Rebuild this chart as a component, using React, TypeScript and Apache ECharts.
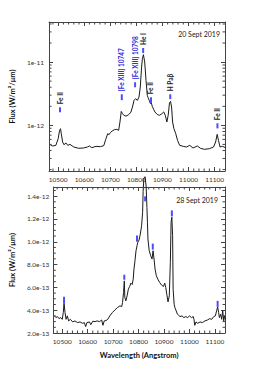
import React, { useEffect, useRef } from "react";
import * as echarts from "echarts";

// ---- 20 Sept 2019 spectrum (flux in W/m^2/µm) ----
const wavelengthSep20 = [
  10469, 10479, 10491, 10500, 10505, 10509, 10512, 10517, 10522, 10530, 10537, 10545, 10560, 10579,
  10597, 10612, 10620, 10629, 10645, 10662, 10675, 10682, 10690, 10695, 10700, 10707, 10716, 10725,
  10732, 10737, 10742, 10747, 10752, 10760, 10770, 10779, 10785, 10791, 10797, 10804, 10810, 10815,
  10820, 10823, 10827, 10832, 10837, 10842, 10845, 10850, 10854, 10857, 10861, 10866, 10871, 10880,
  10888, 10898, 10905, 10911, 10917, 10922, 10927, 10931, 10935, 10939, 10944, 10951, 10958, 10966,
  10980, 10992, 11005, 11017, 11034, 11046, 11061, 11080, 11096, 11104, 11110, 11115, 11121, 11130, 11142,
];
const fluxSep20 = [
  4.95e-13, 4.72e-13, 4.83e-13, 6.16e-13, 8.14e-13, 8.86e-13, 7.38e-13, 5.46e-13, 4.95e-13, 5.26e-13,
  4.83e-13, 5.01e-13, 4.55e-13, 4.34e-13, 4.39e-13, 4.55e-13, 4.72e-13, 4.44e-13, 4.66e-13, 4.61e-13,
  4.78e-13, 5.94e-13, 7.38e-13, 7.13e-13, 7.66e-13, 8.14e-13, 8.55e-13, 8.65e-13, 8.34e-13, 1.13e-12,
  1.66e-12, 1.53e-12, 1.44e-12, 1.4e-12, 1.47e-12, 1.62e-12, 1.95e-12, 2.48e-12, 2.64e-12, 2.48e-12,
  2.8e-12, 4.03e-12, 8.34e-12, 1.13e-11, 1.31e-11, 1.0e-11, 5.14e-12, 2.98e-12, 2.74e-12, 2.45e-12,
  2.2e-12, 2.3e-12, 2.0e-12, 1.8e-12, 1.63e-12, 1.49e-12, 1.44e-12, 1.53e-12, 1.63e-12, 1.44e-12,
  1.13e-12, 1.44e-12, 2.25e-12, 2.39e-12, 1.95e-12, 1.13e-12, 8.86e-13, 7.38e-13, 5.79e-13, 4.83e-13,
  4.66e-13, 4.55e-13, 4.83e-13, 4.39e-13, 4.72e-13, 4.34e-13, 4.18e-13, 4.28e-13, 4.55e-13, 5.46e-13,
  7.21e-13, 5.79e-13, 4.55e-13, 4.66e-13, 4.44e-13,
];

// ---- 28 Sept 2019 spectrum (flux in units of 1e-13 W/m^2/µm) ----
const wavelengthSep28 = [
  10469, 10475, 10481, 10487, 10494, 10500, 10504, 10507, 10511, 10515, 10520, 10525, 10532, 10541,
  10550, 10560, 10570, 10579, 10587, 10592, 10597, 10607, 10612, 10620, 10629, 10637, 10647, 10655,
  10660, 10665, 10672, 10679, 10687, 10697, 10707, 10717, 10727, 10734, 10737, 10741, 10744, 10746,
  10750, 10755, 10760, 10765, 10770, 10775, 10779, 10782, 10786, 10790, 10794, 10797, 10802, 10807,
  10812, 10816, 10818, 10821, 10826, 10830, 10833, 10835, 10837, 10842, 10848, 10853, 10857, 10861,
  10865, 10870, 10876, 10883, 10891, 10898, 10903, 10907, 10911, 10916, 10921, 10925, 10928, 10931,
  10934, 10936, 10940, 10943, 10948, 10953, 10958, 10963, 10971, 10978, 10986, 10993, 11001, 11008,
  11015, 11018, 11021, 11026, 11033, 11042, 11051, 11061, 11071, 11080, 11088, 11096, 11102, 11107,
  11111, 11115, 11118, 11123, 11127, 11131, 11135, 11138, 11142,
];
const fluxSep28E13 = [
  3.5, 3.35, 3.44, 3.26, 3.35, 3.2, 3.79, 4.61, 3.79, 3.2, 3.5, 3.06, 3.2, 2.97,
  3.06, 2.91, 2.97, 2.85, 2.91, 2.56, 2.91, 2.97, 2.73, 3.03, 3.0, 3.06, 3.0, 3.14,
  2.67, 3.06, 3.09, 3.2, 3.5, 3.79, 4.02, 4.23, 4.38, 4.32, 4.67, 5.55, 6.57, 5.11,
  4.82, 5.26, 5.84, 6.08, 6.37, 6.25, 6.72, 7.6, 8.33, 9.21, 9.65, 9.95, 10.15, 10.68,
  11.41, 12.59, 14.4, 15.6, 15.7, 14.8, 13.0, 11.71, 10.24, 9.21, 8.77, 8.48, 9.21, 8.48,
  7.6, 7.01, 6.72, 6.43, 6.19, 6.08, 6.37, 5.99, 5.4, 4.73, 5.26, 8.19, 11.71, 12.15,
  10.53, 5.84, 4.52, 4.23, 3.94, 3.64, 3.55, 3.44, 3.5, 3.35, 3.44, 3.35, 3.5, 3.35,
  3.44, 3.2, 2.67, 2.97, 2.85, 2.97, 2.91, 3.06, 3.14, 3.26, 3.2, 3.44, 3.5, 3.94,
  4.29, 3.79, 3.35, 3.64, 3.2, 3.94, 3.06, 3.5, 3.2,
];

// ---- line identifications ----
const lineLabels = ["Fe II", "[Fe XIII] 10747", "[Fe XIII] 10798", "He I", "Fe II", "H Paβ", "Fe II"];
const lineLabelIsBlue = [false, true, true, false, false, false, false];
const markerWlSep20 = [10507, 10744, 10795, 10826, 10856, 10930, 11111];
const markerLowSep20 = [1.61e-12, 2.5e-12, 4.0e-12, 1.39e-11, 2.23e-12, 2.6e-12, 8.95e-13];
const markerHighSep20 = [1.93e-12, 3.1e-12, 4.8e-12, 1.67e-11, 2.78e-12, 3.1e-12, 1.08e-12];
const markerWlSep28 = [10507, 10744, 10794, 10826, 10856, 10931, 11111];
const markerLowSep28 = [4.64, 6.67, 10.0, 13.54, 9.31, 12.22, 4.29];
const markerHighSep28 = [5.17, 7.11, 10.55, 13.98, 9.84, 12.75, 4.82];

const dateLabels = ["20 Sept 2019", "28 Sept 2019"];

const X_MIN = 10465;
const X_MAX = 11140;
const LOG_MIN = 1.9e-13;
const LOG_MAX = 4.3e-11;
const LIN_MIN = 2;
const LIN_MAX = 14.8;
const LIN_STEP = 2;

const FONT = "Lato, 'Open Sans', sans-serif";
const AXIS_COLOR = "#444";
const LABEL_COLOR = "#333";

function xMinorValues(): number[] {
  const out: number[] = [];
  for (let v = Math.ceil(X_MIN / 20) * 20; v < X_MAX; v += 20) {
    if (v % 100 !== 0) out.push(v);
  }
  return out;
}
function logMinorValues(): number[] {
  const out: number[] = [];
  for (let e = -14; e <= -10; e++) {
    for (let m = 2; m <= 9; m++) {
      const v = m * Math.pow(10, e);
      if (v > LOG_MIN && v < LOG_MAX) out.push(v);
    }
  }
  return out;
}
function linMinorValues(): number[] {
  const out: number[] = [];
  for (let v = LIN_MIN; v < LIN_MAX; v += 0.5) {
    if (Math.abs(v / LIN_STEP - Math.round(v / LIN_STEP)) > 1e-6) out.push(v);
  }
  return out;
}

function minorTickSeries(axisIndex: number, yVals: number[], xRef: number, yRef: number) {
  const data: number[][] = [
    ...xMinorValues().map((v) => [v, yRef, 0]),
    ...yVals.map((v) => [xRef, v, 1]),
  ];
  return {
    type: "custom",
    xAxisIndex: axisIndex * 2,
    yAxisIndex: axisIndex * 2,
    silent: true,
    clip: false,
    z: 5,
    data,
    renderItem: (params: any, api: any) => {
      const cs = params.coordSys;
      const p = api.coord([api.value(0), api.value(1)]);
      const style = { stroke: AXIS_COLOR, lineWidth: 1 };
      const len = 2.5;
      if (api.value(2) === 0) {
        return {
          type: "group",
          children: [
            { type: "line", shape: { x1: p[0], y1: cs.y + cs.height, x2: p[0], y2: cs.y + cs.height - len }, style },
            { type: "line", shape: { x1: p[0], y1: cs.y, x2: p[0], y2: cs.y + len }, style },
          ],
        };
      }
      return {
        type: "group",
        children: [
          { type: "line", shape: { x1: cs.x, y1: p[1], x2: cs.x + len, y2: p[1] }, style },
          { type: "line", shape: { x1: cs.x + cs.width, y1: p[1], x2: cs.x + cs.width - len, y2: p[1] }, style },
        ],
      };
    },
  };
}

function markerSeries(axisIndex: number, wl: number[], lo: number[], hi: number[], withLabels: boolean) {
  return {
    type: "custom",
    xAxisIndex: axisIndex * 2,
    yAxisIndex: axisIndex * 2,
    silent: true,
    clip: false,
    z: 10,
    data: wl.map((w, i) => [w, lo[i], hi[i]]),
    encode: { x: 0, y: [1, 2] },
    renderItem: (params: any, api: any) => {
      const i = params.dataIndex;
      const a = api.coord([api.value(0), api.value(1)]);
      const b = api.coord([api.value(0), api.value(2)]);
      const children: any[] = [
        { type: "rect", shape: { x: a[0] - 1, y: b[1], width: 2, height: a[1] - b[1] }, style: { fill: "#4d4dff" } },
      ];
      if (withLabels) {
        children.push({
          type: "text",
          x: b[0],
          y: b[1] - 3,
          rotation: Math.PI / 2,
          style: {
            text: lineLabels[i],
            fill: lineLabelIsBlue[i] ? "#2b2bd6" : "#222",
            font: `bold 6.5px ${FONT}`,
            align: "left",
            verticalAlign: "middle",
            textAlign: "left",
            textVerticalAlign: "middle",
          },
        });
      }
      return { type: "group", children };
    },
  };
}

function xAxes(gridIndex: number, name?: string) {
  const common: any = {
    type: "value",
    gridIndex,
    min: X_MIN,
    max: X_MAX,
    splitNumber: 6,
    splitLine: { show: false },
    axisLine: { onZero: false, lineStyle: { color: AXIS_COLOR, width: 1 } },
    axisTick: { inside: true, length: 4, lineStyle: { color: AXIS_COLOR } },
  };
  return [
    {
      ...common,
      position: "bottom",
      name,
      nameLocation: "middle",
      nameGap: 18,
      nameTextStyle: { fontFamily: FONT, fontWeight: "bold", fontSize: 7.5, color: "#111" },
      axisLabel: {
        fontFamily: FONT,
        fontSize: 6.5,
        color: LABEL_COLOR,
        margin: 5,
        formatter: (v: number) => (Math.abs(v - Math.round(v / 100) * 100) < 1e-6 ? String(Math.round(v)) : ""),
      },
    },
    { ...common, position: "top", axisLabel: { show: false } },
  ];
}

export default function App() {
  const ref = useRef<HTMLDivElement>(null);
  useEffect(() => {
    if (!ref.current) return;
    const chart = echarts.init(ref.current, undefined, { renderer: "svg" });
    const yName = "Flux (W/m²/μm)";
    const yNameStyle = { fontFamily: FONT, fontWeight: "bold", fontSize: 7.5, color: "#111" };
    const yLine = { onZero: false, lineStyle: { color: AXIS_COLOR, width: 1 } };
    const yTick = { inside: true, length: 4, lineStyle: { color: AXIS_COLOR } };
    const option: any = {
      animation: false,
      backgroundColor: "#fff",
      grid: [
        { left: 45, top: 22, width: 180, height: 149 },
        { left: 45, top: 187, width: 180, height: 146 },
      ],
      xAxis: [...xAxes(0), ...xAxes(1, "Wavelength (Angstrom)")],
      yAxis: [
        {
          type: "log",
          gridIndex: 0,
          logBase: 10,
          min: LOG_MIN,
          max: LOG_MAX,
          position: "left",
          name: yName,
          nameLocation: "middle",
          nameGap: 26,
          nameTextStyle: yNameStyle,
          splitLine: { show: false },
          axisLine: yLine,
          axisTick: yTick,
          axisLabel: {
            fontFamily: FONT,
            fontSize: 6.5,
            color: LABEL_COLOR,
            margin: 5,
            formatter: (v: number) => {
              const e = Math.log10(v);
              return Math.abs(e - Math.round(e)) < 1e-6 ? `1e${Math.round(e)}` : "";
            },
          },
        },
        {
          type: "log",
          gridIndex: 0,
          logBase: 10,
          min: LOG_MIN,
          max: LOG_MAX,
          position: "right",
          splitLine: { show: false },
          axisLine: yLine,
          axisTick: yTick,
          axisLabel: { show: false },
        },
        {
          type: "value",
          gridIndex: 1,
          min: LIN_MIN,
          max: LIN_MAX,
          interval: LIN_STEP,
          position: "left",
          name: yName,
          nameLocation: "middle",
          nameGap: 29,
          nameTextStyle: yNameStyle,
          splitLine: { show: false },
          axisLine: yLine,
          axisTick: yTick,
          axisLabel: {
            fontFamily: FONT,
            fontSize: 6.5,
            color: LABEL_COLOR,
            margin: 4,
            formatter: (v: number) =>
              Math.abs(v / LIN_STEP - Math.round(v / LIN_STEP)) < 1e-6 ? (v * 1e-13).toExponential(1) : "",
          },
        },
        {
          type: "value",
          gridIndex: 1,
          min: LIN_MIN,
          max: LIN_MAX,
          interval: LIN_STEP,
          position: "right",
          splitLine: { show: false },
          axisLine: yLine,
          axisTick: yTick,
          axisLabel: { show: false },
        },
      ],
      graphic: [
        {
          type: "text",
          x: 220,
          y: 34,
          style: { text: dateLabels[0], font: `7px ${FONT}`, fill: "#222", align: "right", verticalAlign: "middle", textAlign: "right", textVerticalAlign: "middle" },
        },
        {
          type: "text",
          x: 218,
          y: 200,
          style: { text: dateLabels[1], font: `7px ${FONT}`, fill: "#222", align: "right", verticalAlign: "middle", textAlign: "right", textVerticalAlign: "middle" },
        },
      ],
      series: [
        {
          type: "line",
          xAxisIndex: 0,
          yAxisIndex: 0,
          data: wavelengthSep20.map((w, i) => [w, fluxSep20[i]]),
          showSymbol: false,
          symbol: "none",
          lineStyle: { color: "#1a1a1a", width: 1 },
          clip: true,
          z: 3,
        },
        {
          type: "line",
          xAxisIndex: 2,
          yAxisIndex: 2,
          data: wavelengthSep28.map((w, i) => [w, fluxSep28E13[i]]),
          showSymbol: false,
          symbol: "none",
          lineStyle: { color: "#1a1a1a", width: 1 },
          clip: false,
          z: 3,
        },
        minorTickSeries(0, logMinorValues(), 10800, 1e-12),
        minorTickSeries(1, linMinorValues(), 10800, 5),
        markerSeries(0, markerWlSep20, markerLowSep20, markerHighSep20, true),
        markerSeries(1, markerWlSep28, markerLowSep28, markerHighSep28, false),
      ],
    };
    chart.setOption(option);
    return () => chart.dispose();
  }, []);
  return <div ref={ref} style={{ position: "fixed", left: 0, top: 0, width: 277, height: 367 }} />;
}
